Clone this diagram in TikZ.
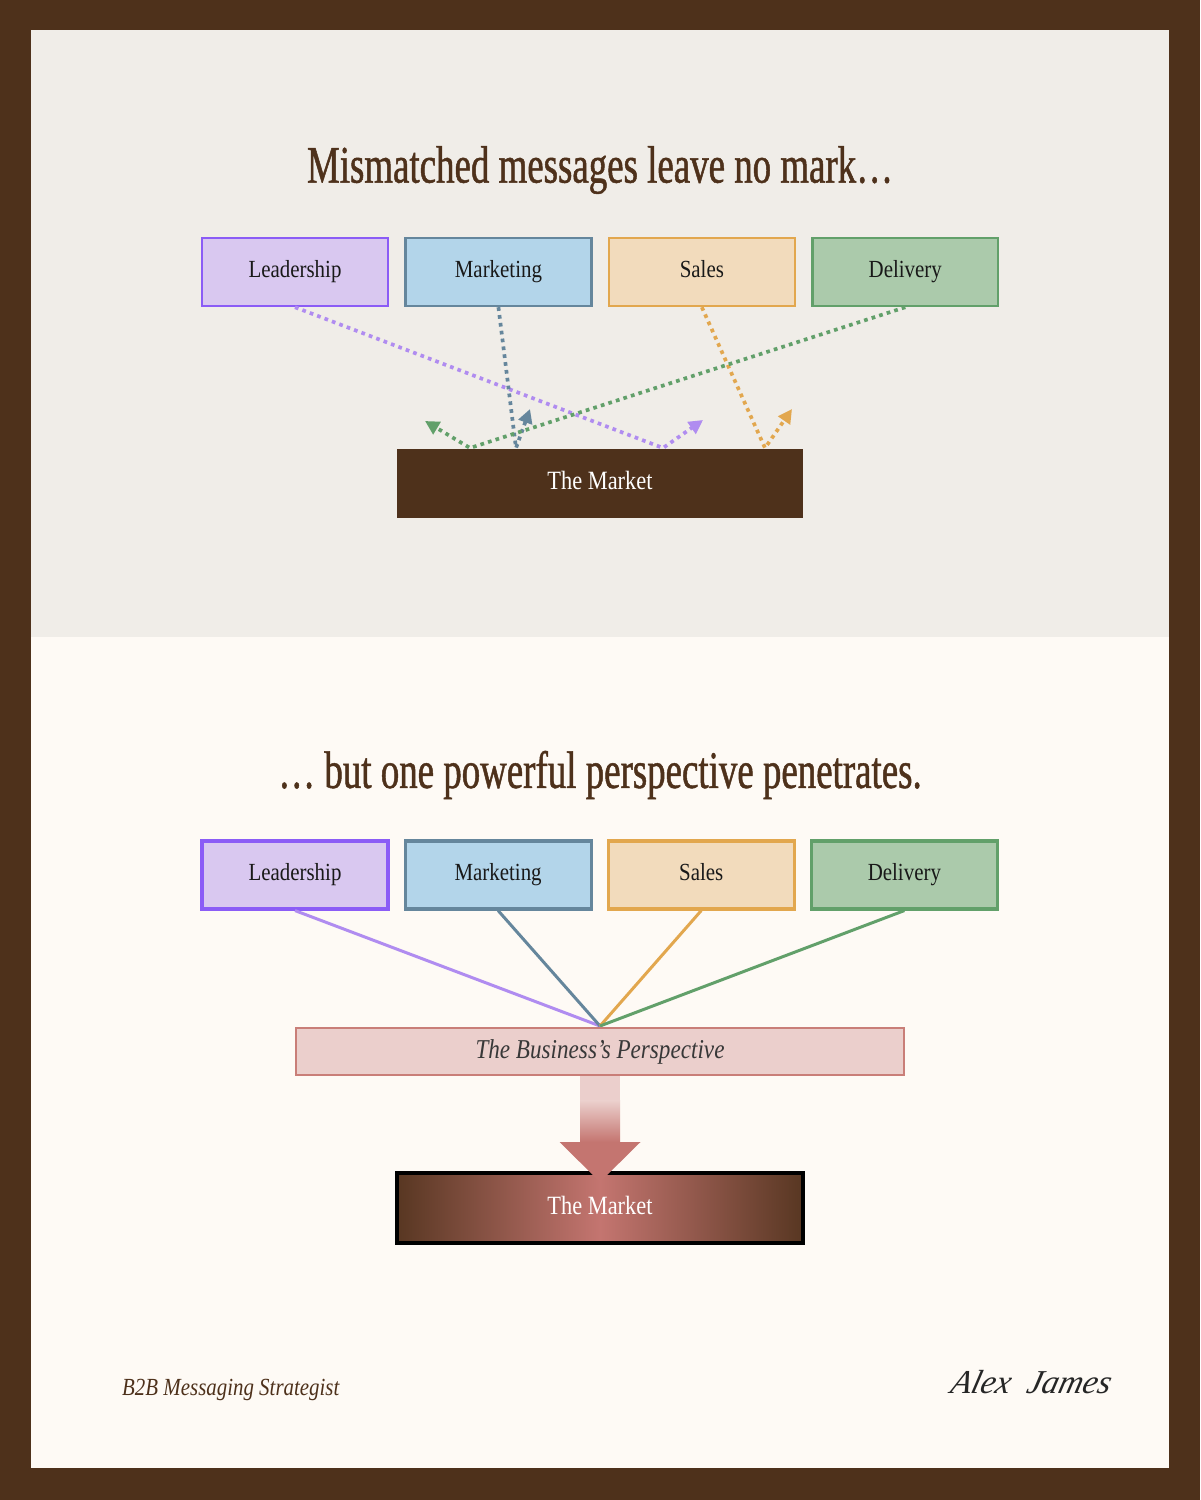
\documentclass[tikz,border=0pt]{standalone}
\usepackage{fontspec}
\setmainfont{Liberation Serif}[FakeStretch=0.85]
\newfontfamily\titlefont{Liberation Serif}[FakeStretch=0.70, FakeBold=0.9]
\newfontfamily\signfont{Liberation Serif}[FakeSlant=0.25]
\usetikzlibrary{arrows.meta, positioning}

\definecolor{frame}{HTML}{4E311B}
\definecolor{toppanel}{HTML}{F0EDE8}
\definecolor{lowpanel}{HTML}{FEFAF5}
\definecolor{leadfill}{HTML}{D9C8F0}
\definecolor{leaddraw}{HTML}{8B5CF6}
\definecolor{leadline}{HTML}{B08CF0}
\definecolor{markfill}{HTML}{B3D5EA}
\definecolor{markdraw}{HTML}{65869C}
\definecolor{salefill}{HTML}{F2DBBC}
\definecolor{saledraw}{HTML}{E2A74E}
\definecolor{delifill}{HTML}{ABCAAB}
\definecolor{delidraw}{HTML}{62A06A}
\definecolor{perspfill}{HTML}{EBCFCC}
\definecolor{perspdraw}{HTML}{C97E78}
\definecolor{rose}{HTML}{C47570}
\definecolor{marketedge}{HTML}{583722}

\begin{document}
\begin{tikzpicture}[x=0.02cm, y=-0.02cm,
    team/.style={draw, line width=1.4pt, minimum width=3.72cm, minimum height=1.36cm,
      inner sep=0pt, text height=9.5pt, text depth=3pt, text=black!90,
      font=\fontsize{14}{16}\selectfont},
    headline/.style={text=frame, font=\titlefont\fontsize{30}{34}\selectfont},
    market/.style={minimum width=8.12cm, minimum height=1.4cm, inner sep=0pt,
      text height=10pt, text depth=3pt, text=white, font=\fontsize{15}{17}\selectfont},
    msg/.style={line width=2.1pt, dash pattern=on 2.1pt off 2.4pt,
      -{Triangle[length=8pt, width=8pt]}},
    ray/.style={line width=1.7pt}]

  % frame and panels
  \fill[frame] (0,0) rectangle (1200,1500);
  \fill[toppanel] (31,30) rectangle (1169,637);
  \fill[lowpanel] (31,637) rectangle (1169,1468);

  % upper panel: scattered messages
  \node[headline] (title1) at (600,170) {Mismatched messages leave no mark…};
  \node[team, fill=leadfill, draw=leaddraw] (lead1) at (295,272) {Leadership};
  \node[team, fill=markfill, draw=markdraw, right=0.3cm of lead1] (mark1) {Marketing};
  \node[team, fill=salefill, draw=saledraw, right=0.3cm of mark1] (sale1) {Sales};
  \node[team, fill=delifill, draw=delidraw, right=0.3cm of sale1] (deli1) {Delivery};
  \node[market, fill=frame] (market1) at (600,483.5) {The Market};

  \coordinate (hitL) at (663,448);  \coordinate (outL) at (703,420);
  \coordinate (hitM) at (516,448);  \coordinate (outM) at (530,409);
  \coordinate (hitS) at (765,448);  \coordinate (outS) at (792,409);
  \coordinate (hitD) at (470,448);  \coordinate (outD) at (425,421);
  \draw[msg, leadline] (lead1.south) -- (hitL) -- (outL);
  \draw[msg, markdraw] (mark1.south) -- (hitM) -- (outM);
  \draw[msg, saledraw] (sale1.south) -- (hitS) -- (outS);
  \draw[msg, delidraw] (deli1.south) -- (hitD) -- (outD);

  % lower panel: one perspective
  \node[headline] (title2) at (600,775) {… but one powerful perspective penetrates.};
  \node[team, line width=1.8pt, fill=leadfill, draw=leaddraw] (lead2) at (295,875) {Leadership};
  \node[team, line width=1.8pt, fill=markfill, draw=markdraw, right=0.28cm of lead2] (mark2) {Marketing};
  \node[team, line width=1.8pt, fill=salefill, draw=saledraw, right=0.28cm of mark2] (sale2) {Sales};
  \node[team, line width=1.8pt, fill=delifill, draw=delidraw, right=0.28cm of sale2] (deli2) {Delivery};

  \coordinate (focus) at (600,1026);
  \draw[ray, leadline] (lead2.south) -- (focus);
  \draw[ray, markdraw] (mark2.south) -- (focus);
  \draw[ray, saledraw] (sale2.south) -- (focus);
  \draw[ray, delidraw] (deli2.south) -- (focus);

  \node[draw=perspdraw, line width=1pt, fill=perspfill, minimum width=12.16cm,
    minimum height=0.94cm, inner sep=0pt, text height=10.5pt, text depth=3pt, text=black!78,
    font=\itshape\fontsize{15.5}{17}\selectfont] (persp) at (600,1051.5) {The Business’s Perspective};

  \node[market, draw=black, line width=2.3pt, left color=marketedge, right color=marketedge,
    middle color=rose] (market2) at (600,1208) {The Market};

  \coordinate (head) at (600,1142);
  \fill[perspfill] ([xshift=-0.4cm]persp.south) rectangle ([xshift=0.4cm,yshift=-0.5cm]persp.south);
  \shade[top color=perspfill, bottom color=rose] ([xshift=-0.4cm,yshift=-0.5cm]persp.south) rectangle ([xshift=0.4cm]head);
  \fill[rose] ([xshift=-0.81cm]head) -- ([xshift=0.81cm]head) -- ([yshift=-0.8cm]head) -- cycle;

  % footer
  \node[anchor=west, text=frame, font=\itshape\fontsize{14}{16}\selectfont] (role) at (116,1390) {B2B Messaging Strategist};
  \node[text=black!85, font=\signfont\itshape\fontsize{19}{21}\selectfont] (sign) at (1029,1382) {Alex\ \ James};
\end{tikzpicture}
\end{document}
